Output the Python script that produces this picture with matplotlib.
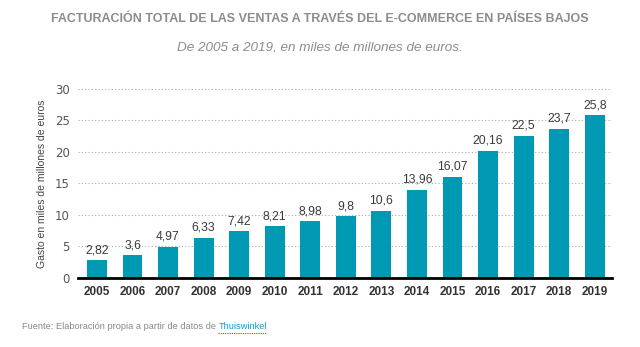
import matplotlib.pyplot as plt

# Data
years = ['2005', '2006', '2007', '2008', '2009', '2010', '2011', '2012',
         '2013', '2014', '2015', '2016', '2017', '2018', '2019']
values = [2.82, 3.6, 4.97, 6.33, 7.42, 8.21, 8.98, 9.8,
          10.6, 13.96, 16.07, 20.16, 22.5, 23.7, 25.8]
labels = ['2,82', '3,6', '4,97', '6,33', '7,42', '8,21', '8,98', '9,8',
          '10,6', '13,96', '16,07', '20,16', '22,5', '23,7', '25,8']
y_ticks = [0, 5, 10, 15, 20, 25, 30]

bar_color = '#0099B4'
plt.rcParams['font.family'] = ['Liberation Sans', 'DejaVu Sans']

fig = plt.figure(figsize=(6.4, 3.47), dpi=100)
ax = fig.add_axes([0.122, 0.199, 0.834, 0.545])

x = range(len(years))
ax.bar(x, values, width=0.56, color=bar_color, zorder=3)

for xi, v, lab in zip(x, values, labels):
    ax.annotate(lab, (xi, v), xytext=(0, 3), textcoords='offset points',
                ha='center', va='bottom', fontsize=8.7, color='#3a3a3a')

ax.set_xlim(-0.53, 14.48)
ax.set_ylim(0, 30)
ax.set_xticks(list(x))
ax.set_xticklabels(years, fontsize=8.5, color='#333333', fontweight='bold')
ax.set_yticks(y_ticks)
ax.set_yticklabels([str(t) for t in y_ticks], fontsize=8.5, color='#555555',
                   family='DejaVu Sans')
ax.tick_params(axis='both', length=0, pad=6)

# Dotted horizontal gridlines
ax.grid(axis='y', linestyle=(0, (1, 2)), color='#aaaaaa', linewidth=0.8, zorder=0)
for s in ['top', 'right', 'left']:
    ax.spines[s].set_visible(False)
ax.spines['bottom'].set_linewidth(2)
ax.spines['bottom'].set_color('black')
ax.spines['bottom'].set_zorder(4)

ax.set_ylabel('Gasto en miles de millones de euros', fontsize=7.5,
              color='#444444', labelpad=6)

fig.text(0.5, 0.945, 'FACTURACIÓN TOTAL DE LAS VENTAS A TRAVÉS DEL E-COMMERCE EN PAÍSES BAJOS',
         ha='center', va='center', fontsize=9, fontweight='bold', color='#8c8c8c')
fig.text(0.5, 0.862, 'De 2005 a 2019, en miles de millones de euros.',
         ha='center', va='center', fontsize=9.7, style='italic', color='#8c8c8c')

src = fig.text(0.034, 0.058, 'Fuente: Elaboración propia a partir de datos de ',
               ha='left', va='center', fontsize=6.7, color='#888888')
fig.canvas.draw()
bb = src.get_window_extent()
link_x = bb.x1 / fig.bbox.width
link = fig.text(link_x, 0.058, 'Thuiswinkel', ha='left', va='center',
                fontsize=6.7, color='#1a9ad6')
fig.canvas.draw()
lb = link.get_window_extent()
fig.add_artist(plt.Line2D([lb.x0 / fig.bbox.width, lb.x1 / fig.bbox.width],
                          [lb.y0 / fig.bbox.height - 0.004] * 2,
                          color='#e03030', linewidth=0.8, linestyle=(0, (1, 1)),
                          transform=fig.transFigure))

fig.savefig('out.png', dpi=100, facecolor='white')
